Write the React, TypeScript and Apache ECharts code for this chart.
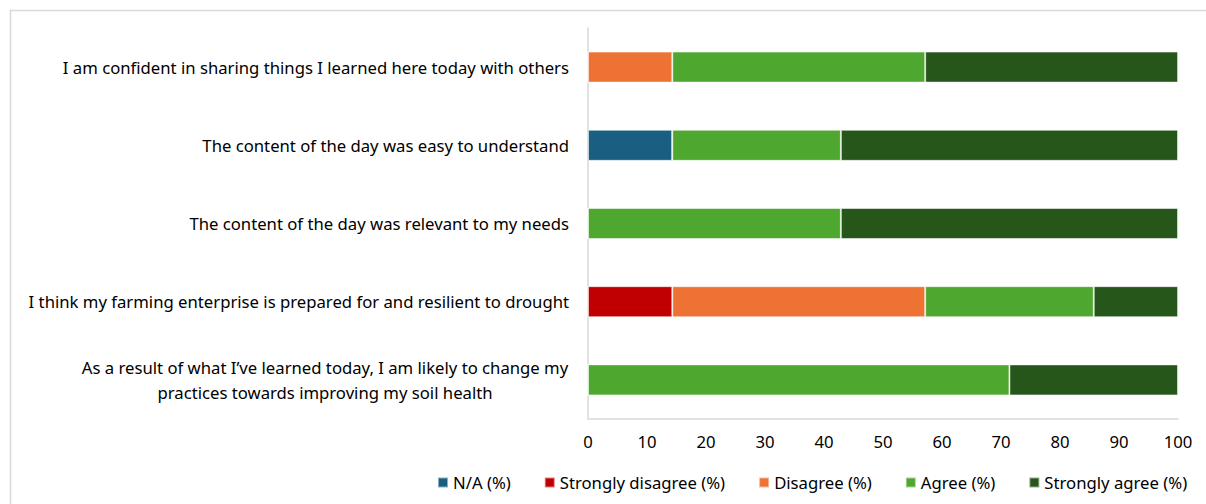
import React, { useEffect, useRef } from "react";
import * as echarts from "echarts";

const categories = [
  "As a result of what I’ve learned today, I am likely to change my\npractices towards improving my soil health",
  "I think my farming enterprise is prepared for and resilient to drought",
  "The content of the day was relevant to my needs",
  "The content of the day was easy to understand",
  "I am confident in sharing things I learned here today with others",
];
const seriesNames = ["N/A (%)", "Strongly disagree (%)", "Disagree (%)", "Agree (%)", "Strongly agree (%)"];
const naValues = [0, 0, 0, 14.29, 0];
const stronglyDisagreeValues = [0, 14.29, 0, 0, 0];
const disagreeValues = [0, 42.86, 0, 0, 14.29];
const agreeValues = [71.43, 28.57, 42.86, 28.57, 42.86];
const stronglyAgreeValues = [28.57, 14.29, 57.14, 57.14, 42.86];
const xTicks = [0, 10, 20, 30, 40, 50, 60, 70, 80, 90, 100];

const colors = ["#1a5e82", "#c00000", "#ed7234", "#4ea72e", "#27561a"];
const FONT = "Noto Sans";
const FS = 16.7;

function measure(text: string): number {
  const c = document.createElement("canvas").getContext("2d");
  if (!c) return text.length * 8;
  c.font = `${FS}px "${FONT}"`;
  return c.measureText(text).width;
}

export default function App() {
  const ref = useRef<HTMLDivElement>(null);
  useEffect(() => {
    if (!ref.current) return;
    const chart = echarts.init(ref.current, undefined, { renderer: "svg" });
    const allValues = [naValues, stronglyDisagreeValues, disagreeValues, agreeValues, stronglyAgreeValues];
    const multi = categories.find((c) => c.indexOf("\n") >= 0) || "";
    const richWidth = Math.ceil(Math.max(...multi.split("\n").map(measure))) + 1;
    chart.setOption({
      animation: false,
      textStyle: { fontFamily: FONT },
      graphic: [
        {
          type: "rect",
          shape: { x: 10.5, y: 10.5, width: 1220, height: 520 },
          style: { fill: "none", stroke: "#d9d9d9", lineWidth: 1.5 },
          silent: true,
        },
      ],
      grid: { left: 588, top: 28, width: 590, height: 391, containLabel: false },
      xAxis: {
        type: "value",
        min: xTicks[0],
        max: xTicks[xTicks.length - 1],
        interval: 10,
        axisLine: { show: true, lineStyle: { color: "#d9d9d9", width: 1.5 } },
        axisTick: { show: false },
        splitLine: { show: false },
        axisLabel: { color: "#000", fontSize: FS, fontFamily: FONT, margin: 14 },
      },
      yAxis: {
        type: "category",
        data: categories,
        axisLine: { show: true, lineStyle: { color: "#d9d9d9", width: 1.5 } },
        axisTick: { show: false },
        axisLabel: {
          color: "#000",
          fontSize: FS,
          fontFamily: FONT,
          margin: 19,
          lineHeight: 25,
          formatter: (v: string) => {
            if (v.indexOf("\n") >= 0) {
              return v
                .split("\n")
                .map((l) => "{c|" + l + "}")
                .join("\n");
            }
            return v;
          },
          rich: {
            c: { width: richWidth, align: "center", fontSize: FS, fontFamily: FONT, color: "#000", lineHeight: 25 },
          },
        },
      },
      legend: {
        left: 432,
        top: 469,
        itemWidth: 10,
        itemHeight: 10,
        itemGap: 33,
        icon: "rect",
        textStyle: { color: "#000", fontSize: FS, fontFamily: FONT },
        data: seriesNames,
      },
      series: seriesNames.map((name, i) => ({
        name,
        type: "bar",
        stack: "total",
        barWidth: 31,
        data: allValues[i],
        itemStyle: { color: colors[i], borderColor: "rgba(255,255,255,0.5)", borderWidth: 1 },
      })),
    });
    return () => chart.dispose();
  }, []);
  return (
    <div
      ref={ref}
      style={{ position: "fixed", left: 0, top: 0, width: 1206, height: 504, background: "#fff" }}
    />
  );
}
